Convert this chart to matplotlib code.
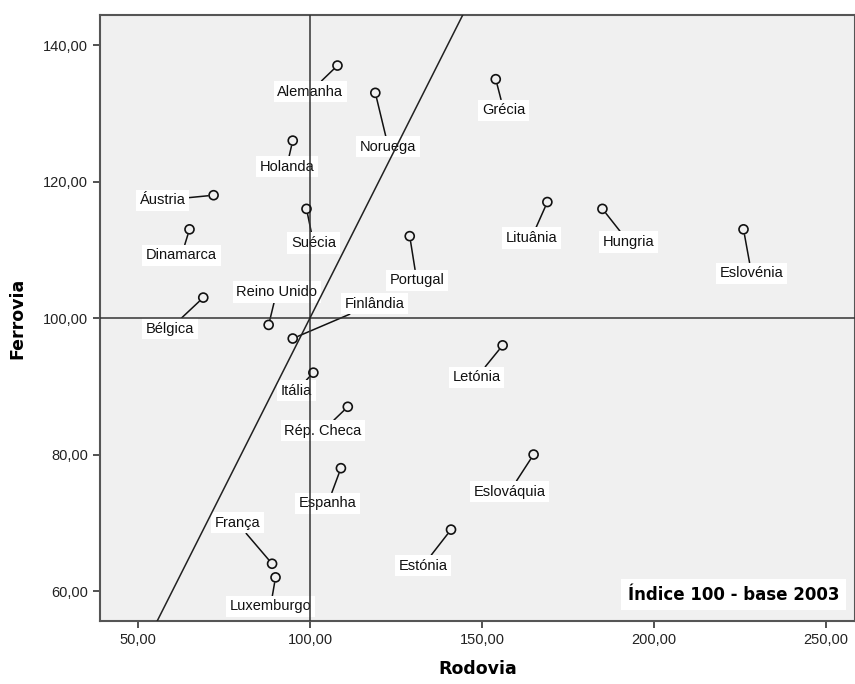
import numpy as np
import matplotlib.pyplot as plt

# Índice 100 - base 2003
paises = ['Alemanha', 'Noruega', 'Grécia', 'Holanda', 'Áustria', 'Suécia',
          'Dinamarca', 'Portugal', 'Lituânia', 'Hungria', 'Eslovénia',
          'Bélgica', 'Reino Unido', 'Finlândia', 'Itália', 'Rép. Checa',
          'Espanha', 'França', 'Luxemburgo', 'Estónia', 'Letónia', 'Eslováquia']
rodovia = [108, 119, 154, 95, 72, 99, 65, 129, 169, 185, 226,
           69, 88, 95, 101, 111, 109, 89, 90, 141, 156, 165]
ferrovia = [137, 133, 135, 126, 118, 116, 113, 112, 117, 116, 113,
            103, 99, 97, 92, 87, 78, 64, 62, 69, 96, 80]

# label offsets from the point, in pixels (x right, y up)
offsets = {'Alemanha': (-27, -26), 'Noruega': (13, -54), 'Grécia': (8, -31),
           'Holanda': (-6, -26), 'Áustria': (-51, -5), 'Suécia': (7, -34),
           'Dinamarca': (-8, -26), 'Portugal': (7, -44), 'Lituânia': (-16, -36),
           'Hungria': (26, -33), 'Eslovénia': (8, -44), 'Bélgica': (-33, -31),
           'Reino Unido': (8, 33), 'Finlândia': (82, 35), 'Itália': (-17, -18),
           'Rép. Checa': (-25, -24), 'Espanha': (-13, -35), 'França': (-35, 41),
           'Luxemburgo': (-5, -29), 'Estónia': (-28, -36), 'Letónia': (-26, -32),
           'Eslováquia': (-24, -37)}

plt.rcParams['font.family'] = ['Liberation Sans', 'DejaVu Sans']

fig = plt.figure(figsize=(8.55, 6.84), dpi=100)
ax = fig.add_axes([0.117, 0.0925, 0.883, 0.8855])
ax.set_facecolor('#f0f0f0')

ax.set_xlim(39, 258.4)
ax.set_ylim(55.65, 144.4)

ax.axvline(100, color='#333333', lw=1.1, zorder=5)
ax.axhline(100, color='#333333', lw=1.1, zorder=5)
ax.plot([0, 300], [0, 300], color='#222222', lw=1.1, zorder=5)

ax.scatter(rodovia, ferrovia, s=42, facecolors='none', edgecolors='#111111',
           linewidths=1.2, zorder=6)

for nome, x, y in zip(paises, rodovia, ferrovia):
    dx, dy = offsets[nome]
    ax.annotate(nome, (x, y), xytext=(dx, dy), textcoords='offset pixels',
                ha='center', va='center', fontsize=10.5, color='#111111',
                bbox=dict(boxstyle='square,pad=0.25', fc='white', ec='none'),
                arrowprops=dict(arrowstyle='-', color='#111111', lw=1.1,
                                shrinkA=0, shrinkB=4),
                zorder=4)

ax.text(0.979, 0.028, 'Índice 100 - base 2003', transform=ax.transAxes,
        ha='right', va='bottom', fontsize=12, fontweight='bold',
        family='DejaVu Sans',
        bbox=dict(boxstyle='square,pad=0.4', fc='white', ec='none'),
        zorder=7)

ax.set_xticks([50, 100, 150, 200, 250])
ax.set_yticks([60, 80, 100, 120, 140])
ax.set_xticklabels(['50,00', '100,00', '150,00', '200,00', '250,00'])
ax.set_yticklabels(['60,00', '80,00', '100,00', '120,00', '140,00'])
ax.tick_params(direction='out', length=5, width=1.2, colors='#333333',
               labelsize=10.5, labelcolor='#222222')

for s in ax.spines.values():
    s.set_color('#555555')
    s.set_linewidth(1.5)

ax.set_xlabel('Rodovia', fontsize=12.5, fontweight='bold', family='DejaVu Sans',
              labelpad=10)
ax.set_ylabel('Ferrovia', fontsize=12.5, fontweight='bold', family='DejaVu Sans',
              labelpad=12)

fig.savefig('out.png', dpi=100)
